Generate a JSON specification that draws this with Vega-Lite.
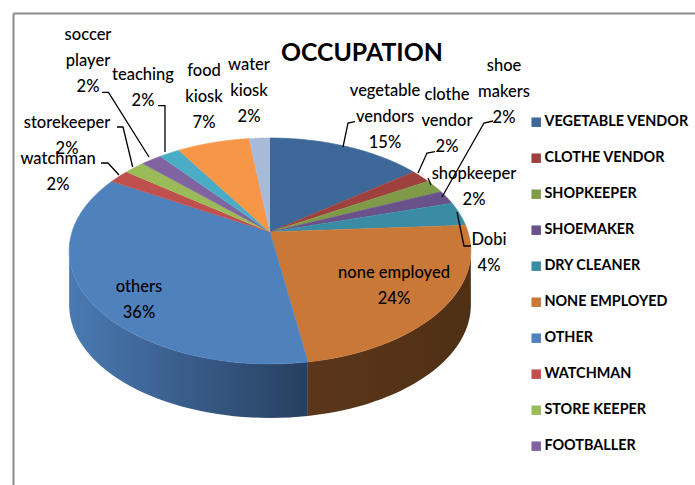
{
"$schema":"https://vega.github.io/schema/vega-lite/v6.json",
"autosize":{"type":"none"},
"padding":{"left":13,"top":13,"right":0,"bottom":0},
"width":682,"height":472,
"background":"white",
"config":{"view":{"stroke":null}},
"title":{"text":"OCCUPATION","anchor":"start","frame":"group","dx":268,"offset":-53,"font":"Lato","fontSize":24.8,"fontWeight":"bold","color":"#000000"},
"data":{"values":[
{"occupation":"VEGETABLE VENDOR","label":"vegetable\nvendors\n15%","share":15},
{"occupation":"CLOTHE VENDOR","label":"clothe\nvendor\n2%","share":2},
{"occupation":"SHOPKEEPER","label":"shopkeeper\n2%","share":2},
{"occupation":"SHOEMAKER","label":"shoe\nmakers\n2%","share":2},
{"occupation":"DRY CLEANER","label":"Dobi\n4%","share":3.5},
{"occupation":"NONE EMPLOYED","label":"none employed\n24%","share":23.9},
{"occupation":"OTHER","label":"others\n36%","share":36.6},
{"occupation":"WATCHMAN","label":"watchman\n2%","share":2},
{"occupation":"STORE KEEPER","label":"storekeeper\n2%","share":2},
{"occupation":"FOOTBALLER","label":"soccer\nplayer\n2%","share":2},
{"occupation":"TEACHING","label":"teaching\n2%","share":2},
{"occupation":"FOOD KIOSK","label":"food\nkiosk\n7%","share":7},
{"occupation":"WATER KIOSK","label":"water\nkiosk\n2%","share":2}
]},
"transform":[
{"window":[{"op":"sum","field":"share","as":"cum"}]},
{"joinaggregate":[{"op":"sum","field":"share","as":"total"}]},
{"calculate":"(datum.cum-datum.share)/datum.total*2*PI","as":"th0"},
{"calculate":"datum.cum/datum.total*2*PI","as":"th1"}
],
"encoding":{
"x":{"field":"px","type":"quantitative","scale":{"domain":[13,695],"nice":false,"zero":false},"axis":{"orient":"top","title":null,"labels":false,"ticks":false,"grid":false,"domainColor":"#8c8c8c","domainWidth":2}},
"y":{"field":"py","type":"quantitative","scale":{"domain":[485,13],"nice":false,"zero":false},"axis":{"orient":"left","title":null,"labels":false,"ticks":false,"grid":false,"domainColor":"#8c8c8c","domainWidth":2}}
},
"layer":[
{
"transform":[
{"filter":"datum.occupation==='OTHER'"},
{"calculate":"sequence(0,41)","as":"pts"},{"flatten":["pts"],"as":["i"]},
{"calculate":"datum.th0+(4.543-datum.th0)*datum.i/40","as":"th"},
{"calculate":"1+0.168*cos(datum.th)","as":"w"},
{"calculate":"270+198*sin(datum.th)/datum.w","as":"px"},
{"calculate":"232-109.8*cos(datum.th)/datum.w","as":"py"},
{"calculate":"datum.py+54","as":"py2"}
],
"mark":{"type":"area","fill":{"gradient":"linear","x1":0,"x2":1,"y1":0,"y2":0,"stops":[{"offset":0,"color":"#4a7ab2"},{"offset":0.35,"color":"#3e6596"},{"offset":1,"color":"#273f5f"}]}},
"encoding":{"y2":{"field":"py2"}}
},
{
"transform":[
{"filter":"datum.occupation==='NONE EMPLOYED'"},
{"calculate":"sequence(0,41)","as":"pts"},{"flatten":["pts"],"as":["i"]},
{"calculate":"1.74+(datum.th1-1.74)*datum.i/40","as":"th"},
{"calculate":"1+0.168*cos(datum.th)","as":"w"},
{"calculate":"270+198*sin(datum.th)/datum.w","as":"px"},
{"calculate":"232-109.8*cos(datum.th)/datum.w","as":"py"},
{"calculate":"datum.py+54","as":"py2"}
],
"mark":{"type":"area","fill":{"gradient":"linear","x1":0,"x2":1,"y1":0,"y2":0,"stops":[{"offset":0,"color":"#5c361a"},{"offset":1,"color":"#4f3014"}]}},
"encoding":{"y2":{"field":"py2"}}
},
{
"transform":[
{"calculate":"sequence(-1,41)","as":"pts"},{"flatten":["pts"],"as":["i"]},
{"calculate":"datum.th0+(datum.th1-datum.th0)*datum.i/40","as":"th"},
{"calculate":"1+0.168*cos(datum.th)","as":"w"},
{"calculate":"datum.i<0?270:270+198*sin(datum.th)/datum.w","as":"px"},
{"calculate":"datum.i<0?232:232-109.8*cos(datum.th)/datum.w","as":"py"}
],
"mark":{"type":"line","strokeWidth":0.6,"strokeJoin":"round"},
"encoding":{
"order":{"field":"i","type":"quantitative"},
"fill":{"field":"occupation","type":"nominal","scale":{
"domain":["VEGETABLE VENDOR","CLOTHE VENDOR","SHOPKEEPER","SHOEMAKER","DRY CLEANER","NONE EMPLOYED","OTHER","WATCHMAN","STORE KEEPER","FOOTBALLER","TEACHING","FOOD KIOSK","WATER KIOSK"],
"range":["#3d6898","#9e413e","#7f9a48","#69518a","#3a8ca5","#c97838","#4f81bd","#c0504d","#9bbb59","#8064a2","#4bacc6","#f79646","#a7bbd9"]},
"legend":{"values":["VEGETABLE VENDOR","CLOTHE VENDOR","SHOPKEEPER","SHOEMAKER","DRY CLEANER","NONE EMPLOYED","OTHER","WATCHMAN","STORE KEEPER","FOOTBALLER"],"title":null,"orient":"none","legendX":516,"legendY":102,"symbolType":"square","symbolSize":90,"symbolStrokeWidth":0,"labelFont":"Lato","labelFontSize":14.4,"labelFontWeight":"bold","labelColor":"#000000","rowPadding":21,"labelOffset":1,"labelLimit":170}},
"stroke":{"field":"occupation","type":"nominal","legend":null,"scale":{
"domain":["VEGETABLE VENDOR","CLOTHE VENDOR","SHOPKEEPER","SHOEMAKER","DRY CLEANER","NONE EMPLOYED","OTHER","WATCHMAN","STORE KEEPER","FOOTBALLER","TEACHING","FOOD KIOSK","WATER KIOSK"],
"range":["#3d6898","#9e413e","#7f9a48","#69518a","#3a8ca5","#c97838","#4f81bd","#c0504d","#9bbb59","#8064a2","#4bacc6","#f79646","#a7bbd9"]}}
}
},
{
"transform":[
{"calculate":"{'VEGETABLE VENDOR':[[355,121.7,0],[348,123,1],[343,147,2]],'CLOTHE VENDOR':[[435,151.7,0],[427,153,1],[418,173,2]],'SHOPKEEPER':[[428,178,0],[431,185,1]],'SHOEMAKER':[[493,121,0],[484,123,1],[442,197,2]],'DRY CLEANER':[[471,246,0],[464,246,1],[457,212,2]],'WATCHMAN':[[101,163,0],[108,163,1],[119,175,2]],'STORE KEEPER':[[117,127,0],[123,127,1],[132.7,167,2]],'FOOTBALLER':[[102,92.3,0],[108.5,92.3,1],[149,157,2]],'TEACHING':[[158,105.7,0],[165,105.7,1],[165,152,2]]}[datum.occupation]||[]","as":"leader"},
{"flatten":["leader"],"as":["pt"]},
{"filter":"isValid(datum.pt)"},
{"calculate":"datum.pt[0]","as":"px"},
{"calculate":"datum.pt[1]","as":"py"},
{"calculate":"datum.pt[2]","as":"k"}
],
"mark":{"type":"line","color":"#000000","strokeWidth":1.3},
"encoding":{"detail":{"field":"occupation"},"order":{"field":"k","type":"quantitative"}}
},
{
"transform":[
{"calculate":"{'VEGETABLE VENDOR':[385,91],'CLOTHE VENDOR':[447,95],'SHOPKEEPER':[474,174],'SHOEMAKER':[504,66],'DRY CLEANER':[489,240],'NONE EMPLOYED':[394,273],'OTHER':[139,287],'WATCHMAN':[58,159],'STORE KEEPER':[67,123],'FOOTBALLER':[88,35],'TEACHING':[143,75],'FOOD KIOSK':[204,71],'WATER KIOSK':[249,65]}[datum.occupation]","as":"pos"},
{"calculate":"datum.pos[0]","as":"px"},
{"calculate":"datum.pos[1]","as":"py"}
],
"mark":{"type":"text","font":"Lato","fontSize":16.5,"fontWeight":500,"color":"#000000","lineBreak":"\n","lineHeight":26,"align":"center","baseline":"middle"},
"encoding":{"text":{"field":"label"}}
}
]
}
